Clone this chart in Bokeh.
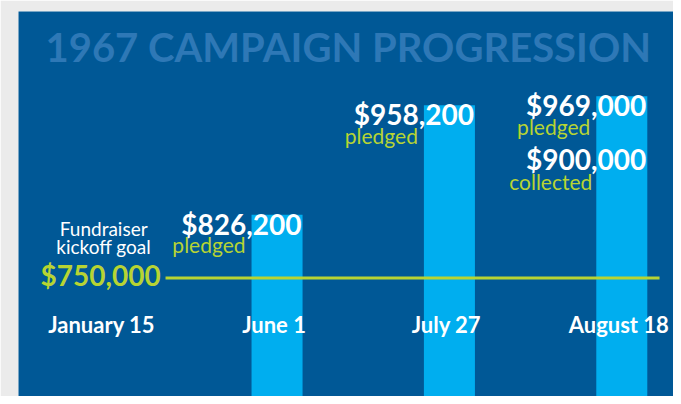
from bokeh.plotting import figure
from bokeh.models import Range1d
from bokeh.core.properties import value
from bokeh.embed import file_html
from bokeh.resources import INLINE

# ---- data ----
title_text = "1967 CAMPAIGN PROGRESSION"
categories = ["January 15", "June 1", "July 27", "August 18"]
pledged = [None, 826200, 958200, 969000]
collected = [None, None, None, 900000]
goal = 750000
goal_label = ["Fundraiser", "kickoff goal"]
pledged_word = "pledged"
collected_word = "collected"

# ---- styles ----
PANEL = "#005896"
TITLE_C = "#2e78b6"
BAR_C = "#00aeef"
LIME = "#b7d433"
FONT = value("Lato")

x_start, x_end = -0.5, 3.30
y_start, y_end = 607200, 1071000

p = figure(width=673, height=396, output_backend="svg", toolbar_location=None,
           x_range=Range1d(x_start, x_end), y_range=Range1d(y_start, y_end),
           x_axis_location=None, y_axis_location=None)
p.min_border_left = 18
p.min_border_right = 0
p.min_border_top = 11
p.min_border_bottom = 0
p.grid.visible = False
p.outline_line_color = None
p.background_fill_color = PANEL
p.border_fill_color = "#ebebeb"

bar_w = 0.296
bx = [i for i, v in enumerate(pledged) if v is not None]
btop = [v for v in pledged if v is not None]

p.vbar(x=bx, top=btop, bottom=0, width=bar_w, fill_color=BAR_C, line_color=None)

# goal line
p.segment(x0=[0.353], y0=[goal], x1=[3.219], y1=[goal], line_color=LIME, line_width=3)

# title
p.text(x=[x_start], y=[y_end], text=[title_text], text_font=FONT, text_font_style="bold",
       text_font_size="40px", text_color=TITLE_C, text_align="left", text_baseline="alphabetic",
       x_offset=27, y_offset=35)

# category labels
p.text(x=list(range(len(categories))), y=[y_start] * len(categories), text=categories,
       text_font=FONT, text_font_style="bold", text_font_size="22px", text_color="white",
       text_align="center", text_baseline="alphabetic", x_offset=-3, y_offset=-72)

# goal labels
p.text(x=[0, 0], y=[goal, goal], text=goal_label, text_font=FONT, text_font_size="19px",
       text_color="white", text_align="center", text_baseline="alphabetic", x_offset=-1,
       y_offset=[-49, -31])
p.text(x=[0], y=[goal], text=[f"${goal:,}"], text_font=FONT, text_font_style="bold",
       text_font_size="28px", text_color=LIME, text_align="right", text_baseline="alphabetic",
       x_offset=56, y_offset=-3)

# pledged values
p.text(x=[i + bar_w / 2 for i in bx], y=btop, text=[f"${v:,}" for v in btop], text_font=FONT,
       text_font_style="bold", text_font_size="28px", text_color="white", text_align="right",
       text_baseline="alphabetic", x_offset=-1, y_offset=9)
p.text(x=[i - bar_w / 2 for i in bx], y=btop, text=[pledged_word] * len(bx), text_font=FONT,
       text_font_size="21px", text_color=LIME, text_align="right", text_baseline="alphabetic",
       x_offset=-6, y_offset=30)

# collected values
cx = [i for i, v in enumerate(collected) if v is not None]
cv = [v for v in collected if v is not None]
p.text(x=[i + bar_w / 2 for i in cx], y=cv, text=[f"${v:,}" for v in cv], text_font=FONT,
       text_font_style="bold", text_font_size="28px", text_color="white", text_align="right",
       text_baseline="alphabetic", x_offset=-1, y_offset=6)
p.text(x=[i - bar_w / 2 for i in cx], y=cv, text=[collected_word] * len(cx), text_font=FONT,
       text_font_size="21px", text_color=LIME, text_align="right", text_baseline="alphabetic",
       x_offset=-4, y_offset=28)

open("out.html", "w").write(file_html(p, INLINE))
